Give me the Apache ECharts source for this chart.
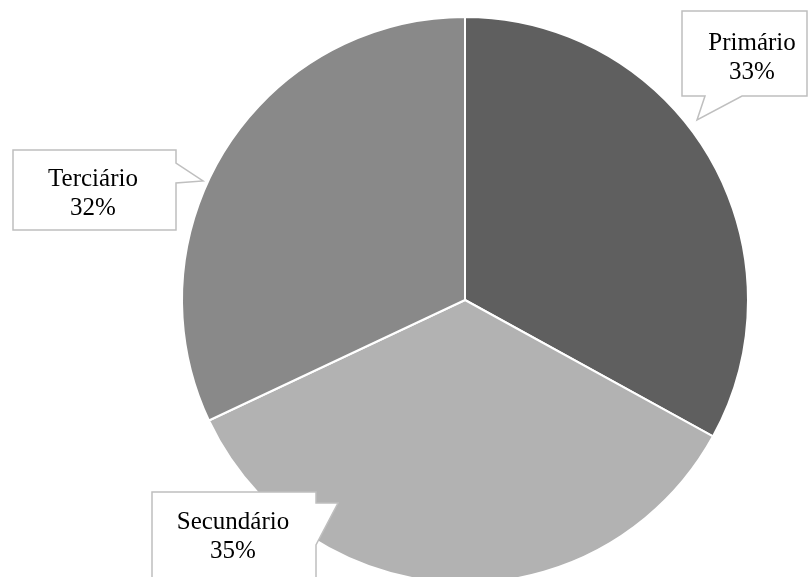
<!DOCTYPE html>
<html>
<head>
<meta charset="utf-8">
<script src="https://cdn.jsdelivr.net/npm/echarts@6/dist/echarts.min.js"></script>
<style>
  html, body { margin: 0; padding: 0; background: #ffffff; }
  #chart { width: 810px; height: 577px; }
</style>
</head>
<body>
<div id="chart"></div>
<script>
// Sector shares (percent)
const categories = ['Primário', 'Secundário', 'Terciário'];
const shares = [33, 35, 32];
const sliceColors = ['#5f5f5f', '#b2b2b2', '#898989'];

// Text anchor of each callout (centre of the two-line label)
const labelAnchors = [[752, 58], [233, 537], [93, 194]];

// Callout outlines: box with a pointer towards its slice
const callouts = [
  [[682, 11], [807, 11], [807, 96], [742, 96], [697, 120], [705, 96], [682, 96]],
  [[152, 492], [316, 492], [316, 503], [338, 503], [316, 545], [316, 600], [152, 600]],
  [[13, 150], [176, 150], [176, 163], [203, 181], [176, 183], [176, 230], [13, 230]]
];

const pieData = categories.map((name, i) => ({
  name: name,
  value: shares[i],
  itemStyle: { color: sliceColors[i] }
}));

const chart = echarts.init(document.getElementById('chart'), null, { renderer: 'canvas' });

chart.setOption({
  backgroundColor: '#ffffff',
  animation: false,
  graphic: callouts.map(pts => ({
    type: 'polygon',
    z: 5,
    silent: true,
    shape: { points: pts },
    style: { fill: '#ffffff', stroke: '#bfbfbf', lineWidth: 1.5 }
  })),
  series: [
    {
      // the slices
      type: 'pie',
      z: 1,
      center: [465, 300],
      radius: 283,
      startAngle: 90,
      clockwise: true,
      avoidLabelOverlap: false,
      label: { show: false },
      labelLine: { show: false },
      itemStyle: { borderColor: '#ffffff', borderWidth: 2 },
      emphasis: { disabled: true },
      data: pieData
    },
    {
      // callout texts, drawn above the callout boxes
      type: 'pie',
      z: 10,
      center: [465, 300],
      radius: 283,
      startAngle: 90,
      clockwise: true,
      silent: true,
      avoidLabelOverlap: false,
      itemStyle: { color: 'rgba(0,0,0,0)', borderWidth: 0 },
      emphasis: { disabled: true },
      labelLine: { show: false },
      label: {
        show: true,
        position: 'outside',
        formatter: '{b}\n{d}%',
        fontFamily: '"Liberation Serif", "Times New Roman", serif',
        fontSize: 25,
        lineHeight: 29,
        color: '#000000',
        align: 'center'
      },
      labelLayout: function (params) {
        const p = labelAnchors[params.dataIndex];
        return { x: p[0], y: p[1], align: 'center', verticalAlign: 'middle' };
      },
      data: categories.map((name, i) => ({ name: name, value: shares[i] }))
    }
  ]
});
</script>
</body>
</html>
